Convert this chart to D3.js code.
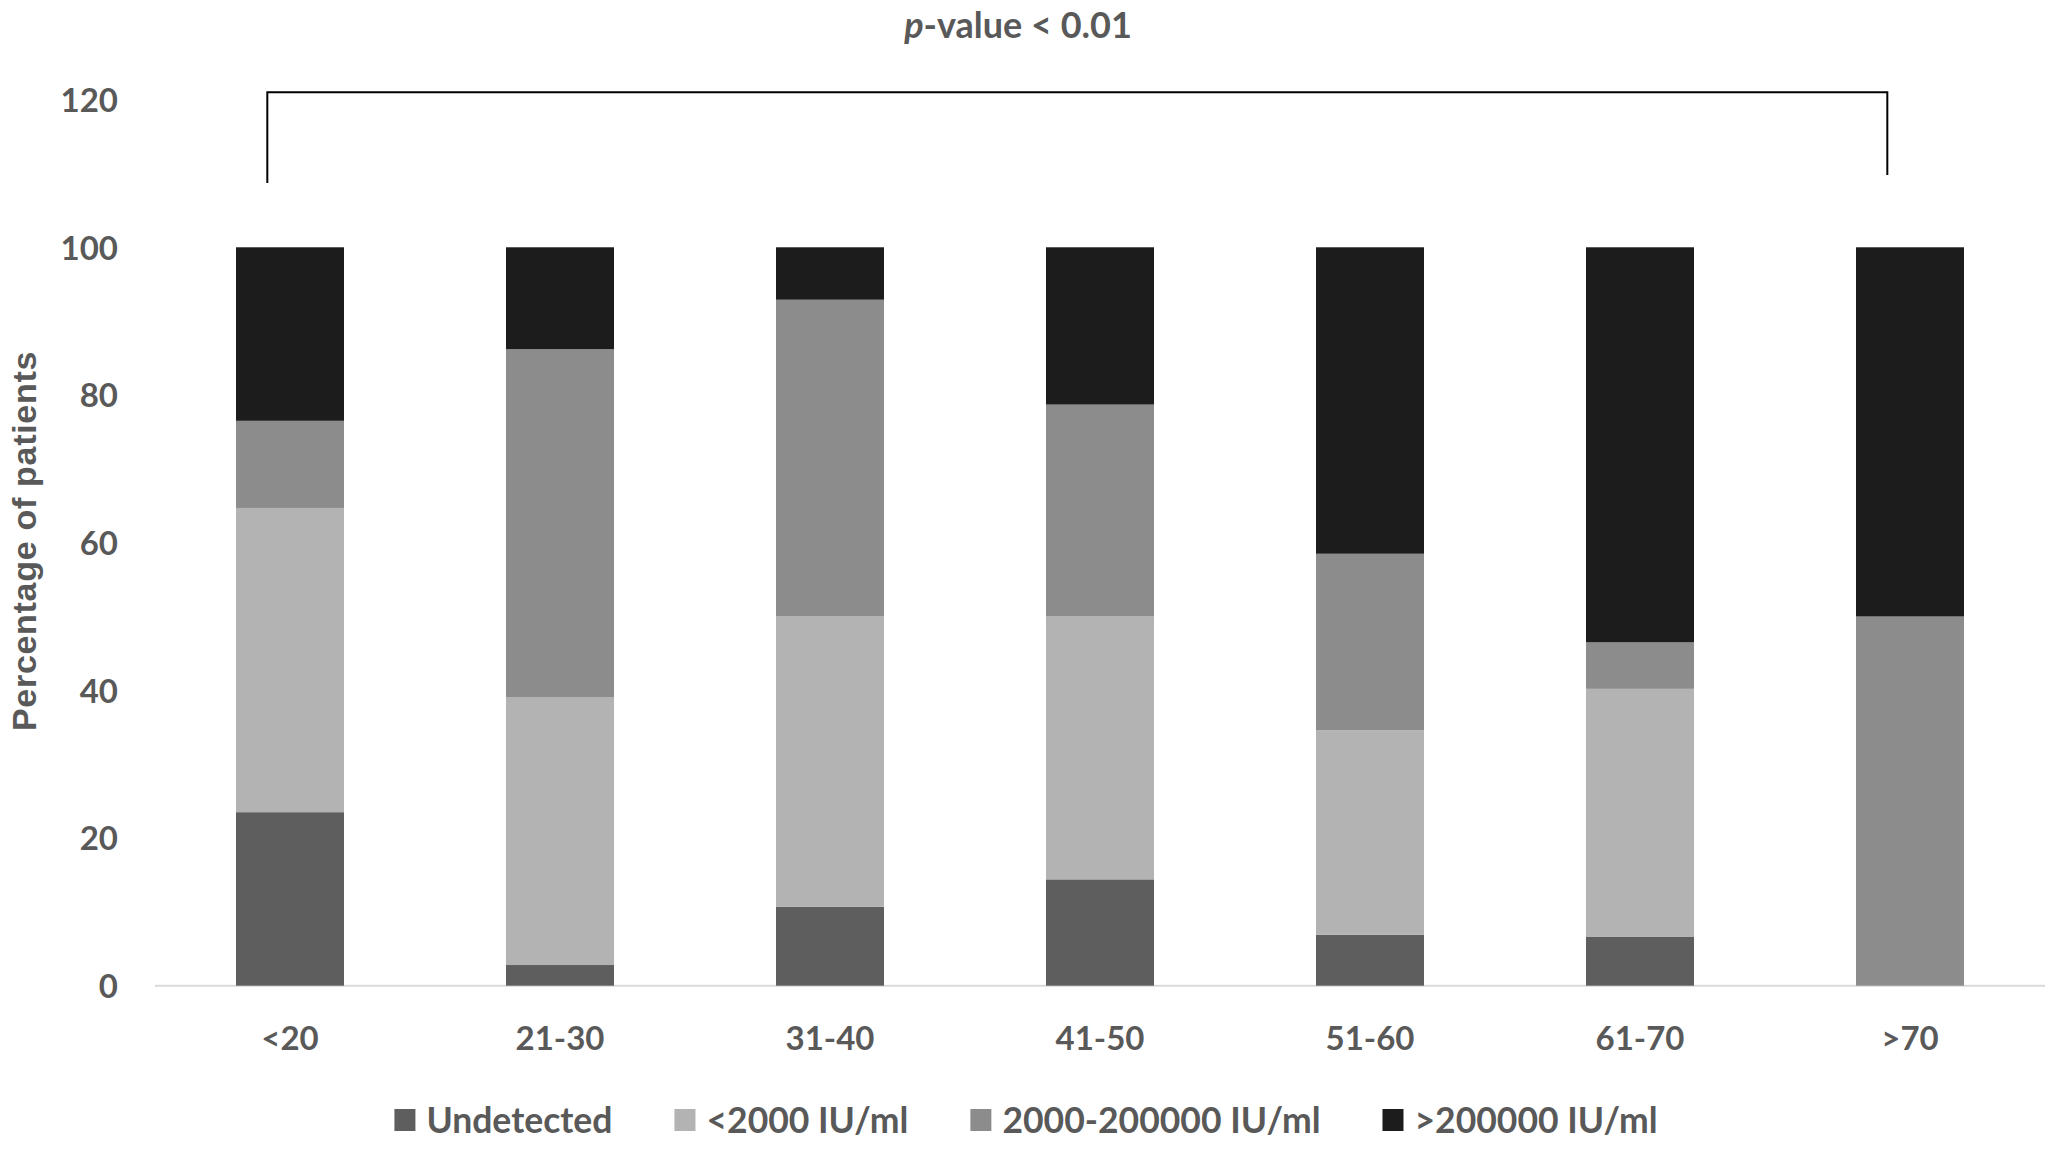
<!DOCTYPE html>
<html>
<head>
<meta charset="utf-8">
<script src="https://cdn.jsdelivr.net/npm/d3@7"></script>
<style>
  html, body { margin: 0; padding: 0; background: #fff; }
  svg { display: block; }
  text { font-family: Lato, "Open Sans", sans-serif; fill: #595959; }
</style>
</head>
<body>
<svg id="chart" width="2061" height="1151"></svg>
<script>
// ---- data ----
const categories = ["<20", "21-30", "31-40", "41-50", "51-60", "61-70", ">70"];
const seriesNames = ["Undetected", "<2000 IU/ml", "2000-200000 IU/ml", ">200000 IU/ml"];
const undetected = [23.5, 2.8, 10.7, 14.4, 6.9, 6.6, 0];
const below2000 = [41.2, 36.3, 39.3, 35.6, 27.7, 33.6, 0];
const mid2000to200000 = [11.8, 47.1, 42.9, 28.7, 23.9, 6.3, 50];
const above200000 = [23.5, 13.8, 7.1, 21.3, 41.5, 53.5, 50];
const yTicks = [0, 20, 40, 60, 80, 100, 120];
const pValueLabel = "p-value < 0.01";
const bracketTop = 121;
const bracketLeftEnd = 108.7;
const bracketRightEnd = 109.8;

const colors = ["#5e5e5e", "#b3b3b3", "#8c8c8c", "#1c1c1c"];

const svg = d3.select("#chart");

const rows = categories.map((c, i) => ({
  cat: c,
  "Undetected": undetected[i],
  "<2000 IU/ml": below2000[i],
  "2000-200000 IU/ml": mid2000to200000[i],
  ">200000 IU/ml": above200000[i]
}));

const stack = d3.stack().keys(seriesNames)(rows);

const x = d3.scaleBand().domain(categories).range([155, 2045]).paddingInner(0.6).paddingOuter(0.3);
const y = d3.scaleLinear().domain([0, 120]).range([985.7, 99.6]);

// baseline axis
svg.append("line")
  .attr("x1", 155).attr("x2", 2045)
  .attr("y1", y(0)).attr("y2", y(0))
  .attr("stroke", "#d9d9d9").attr("stroke-width", 2);

// bars
svg.append("g").selectAll("g").data(stack).join("g")
  .attr("fill", (d, i) => colors[i])
  .selectAll("rect").data(d => d).join("rect")
  .attr("x", d => x(d.data.cat))
  .attr("width", x.bandwidth())
  .attr("y", d => y(d[1]))
  .attr("height", d => Math.max(0, y(d[0]) - y(d[1])));

// y axis labels
const yAxis = d3.axisLeft(y).tickValues(yTicks).tickSize(0).tickPadding(0);
const gy = svg.append("g").attr("transform", "translate(118,0)").call(yAxis);
gy.select(".domain").remove();
gy.selectAll("text").attr("font-size", 33).attr("font-family", "Lato").attr("font-weight", "bold")
  .attr("fill", "#5a5a5a").attr("dy", "0.36em");

// x axis labels
const xAxis = d3.axisBottom(x).tickSize(0).tickPadding(0);
const gx = svg.append("g").attr("transform", `translate(0,${y(0)})`).call(xAxis);
gx.select(".domain").remove();
gx.selectAll("text").attr("font-size", 33).attr("font-family", "Lato").attr("font-weight", "bold")
  .attr("fill", "#5a5a5a").attr("dy", null).attr("y", 64);

// y axis title
svg.append("text")
  .attr("transform", "translate(36,541) rotate(-90)")
  .attr("text-anchor", "middle")
  .attr("font-weight", "bold")
  .attr("font-size", 34)
  .attr("letter-spacing", 0.7)
  .style("font-family", "'Liberation Sans', Arial, sans-serif")
  .text("Percentage of patients");

// bracket
const bxL = x(categories[0]) + x.bandwidth() * 0.29;
const bxR = x(categories[categories.length - 1]) + x.bandwidth() * 0.29;
svg.append("path")
  .attr("d", d3.line()([[bxL, y(bracketLeftEnd)], [bxL, y(bracketTop)], [bxR, y(bracketTop)], [bxR, y(bracketRightEnd)]]))
  .attr("fill", "none").attr("stroke", "#000").attr("stroke-width", 2);

// p-value label
const pv = svg.append("text")
  .attr("x", 1018).attr("y", 38)
  .attr("text-anchor", "middle")
  .attr("font-weight", "bold")
  .attr("font-size", 36);
pv.append("tspan").attr("font-style", "italic").text(pValueLabel.slice(0, 1));
pv.append("tspan").text(pValueLabel.slice(1));

// legend
const legend = svg.append("g");
const items = legend.selectAll("g").data(seriesNames).join("g");
items.append("rect").attr("width", 21).attr("height", 22).attr("y", -11).attr("fill", (d, i) => colors[i]);
items.append("text").attr("x", 32).attr("dy", "0.36em").attr("font-size", 35.5).attr("font-weight", "bold").text(d => d);
const gap = 62;
let cx = 0;
const pos = [];
items.each(function () {
  const w = 32 + d3.select(this).select("text").node().getComputedTextLength();
  pos.push(cx);
  cx += w + gap;
});
const total = cx - gap;
const startX = 1026 - total / 2;
items.attr("transform", (d, i) => `translate(${startX + pos[i]},1120)`);
</script>
</body>
</html>
